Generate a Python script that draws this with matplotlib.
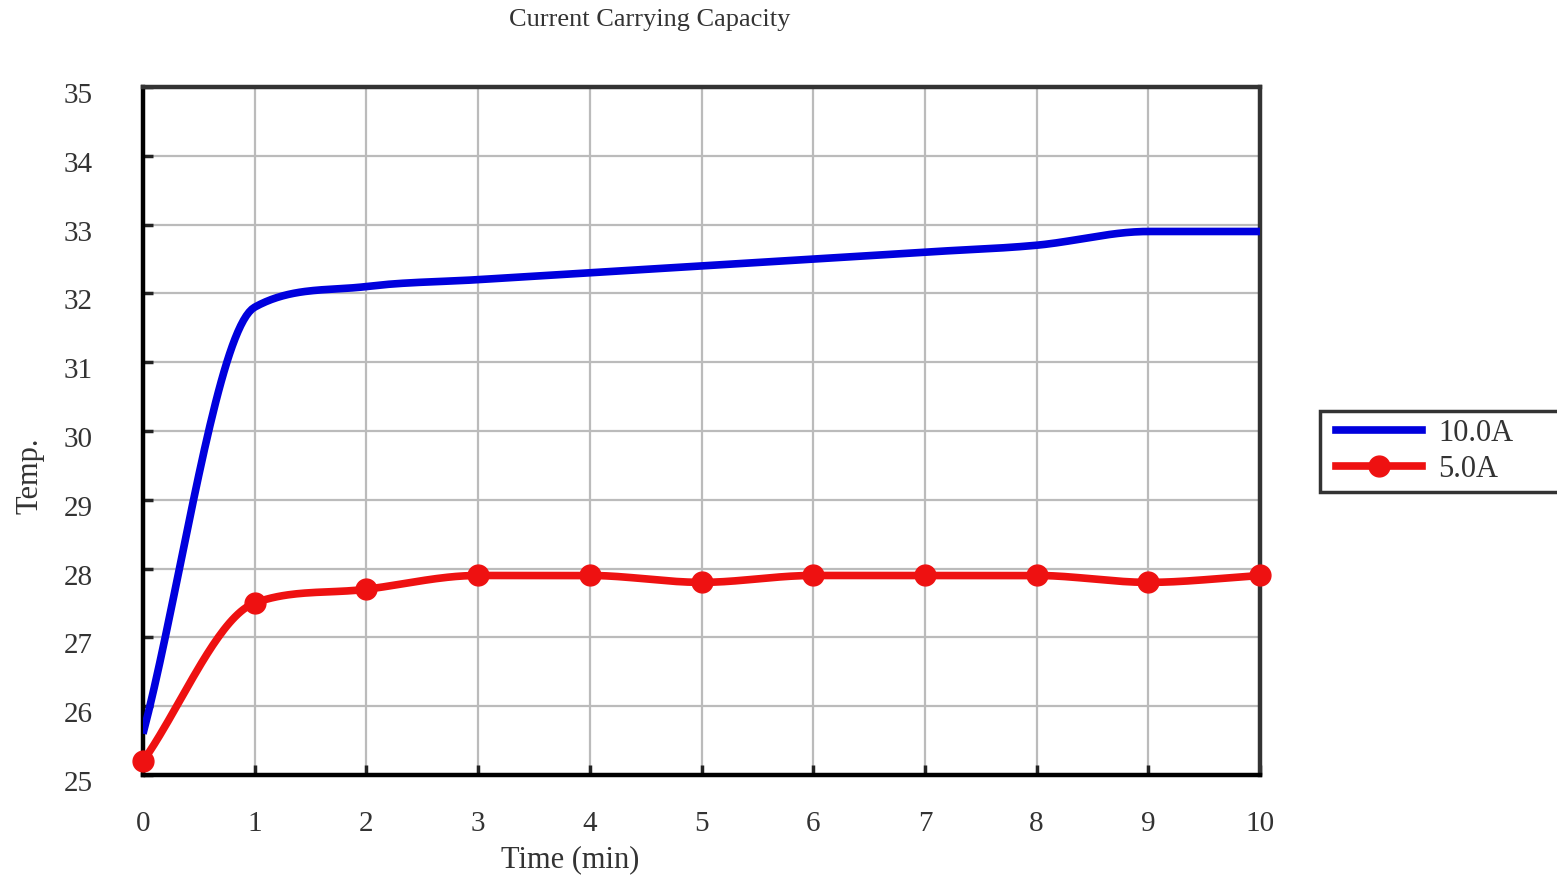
import numpy as np
import matplotlib
matplotlib.use("Agg")
import matplotlib.pyplot as plt
import matplotlib.transforms as mtransforms
from matplotlib.lines import Line2D
from matplotlib.patches import Rectangle

time_min = [0, 1, 2, 3, 4, 5, 6, 7, 8, 9, 10]
temp_10A = [25.6, 31.8, 32.1, 32.2, 32.3, 32.4, 32.5, 32.6, 32.7, 32.9, 32.9]
temp_5A = [25.2, 27.5, 27.7, 27.9, 27.9, 27.8, 27.9, 27.9, 27.9, 27.8, 27.9]
series_labels = ["10.0A", "5.0A"]
x_ticks = list(range(0, 11))
y_ticks = list(range(25, 36))

plt.rcParams['font.family'] = ['Liberation Serif', 'DejaVu Serif']


def smooth(xs, ys, n=40, tension=0.5):
    """Smooth rendering of the line through the data points
    (cardinal spline with Fritsch-Carlson limiting, so no overshoot)."""
    xs = np.asarray(xs, float)
    ys = np.asarray(ys, float)
    d = np.diff(ys) / np.diff(xs)
    m = np.zeros_like(ys)
    m[0], m[-1] = d[0], d[-1]
    for k in range(1, len(xs) - 1):
        if d[k - 1] * d[k] <= 0:
            m[k] = 0.0
        else:
            c = tension * (d[k - 1] + d[k])
            lim = 3 * min(abs(d[k - 1]), abs(d[k]))
            m[k] = np.sign(c) * min(abs(c), lim)
    outx, outy = [], []
    t = np.linspace(0, 1, n, endpoint=False)
    h00 = 2 * t**3 - 3 * t**2 + 1
    h10 = t**3 - 2 * t**2 + t
    h01 = -2 * t**3 + 3 * t**2
    h11 = t**3 - t**2
    for k in range(len(xs) - 1):
        h = xs[k + 1] - xs[k]
        outx.extend(xs[k] + t * h)
        outy.extend(h00 * ys[k] + h10 * h * m[k] + h01 * ys[k + 1] + h11 * h * m[k + 1])
    outx.append(xs[-1])
    outy.append(ys[-1])
    return np.array(outx), np.array(outy)


fig = plt.figure(figsize=(15.57, 8.75), dpi=100)
ax = fig.add_axes([143 / 1557, 1 - 775 / 875, (1260 - 143) / 1557, (775 - 87) / 875])

blue = '#0000dd'
red = '#ee1111'

bx, by = smooth(time_min, temp_10A)
ax.plot(bx, by, color=blue, lw=5.5, solid_capstyle='butt', zorder=3)
rx, ry = smooth(time_min, temp_5A)
ax.plot(rx, ry, color=red, lw=5.5, zorder=3)
ax.plot(time_min, temp_5A, linestyle='none', marker='o', markersize=15,
        color=red, zorder=4, clip_on=False)

ax.set_xlim(0, 10)
ax.set_ylim(25, 35)
ax.set_xticks(x_ticks)
ax.set_yticks(y_ticks)
ax.grid(True, color='#bbbbbb', lw=1.6)
ax.set_axisbelow(True)

for s in ['left', 'bottom']:
    ax.spines[s].set_color('black')
    ax.spines[s].set_linewidth(3.2)
for s in ['top', 'right']:
    ax.spines[s].set_color('#333333')
    ax.spines[s].set_linewidth(3.2)

ax.tick_params(axis='both', direction='in', length=7, width=2.5, colors='#222222',
               labelcolor='#333333', labelsize=21)
ax.tick_params(axis='x', pad=26)
ax.tick_params(axis='y', pad=36)
shift = mtransforms.ScaledTranslation(0, -6 / 100, fig.dpi_scale_trans)
for lbl in ax.get_yticklabels():
    lbl.set_transform(lbl.get_transform() + shift)

fig.text(650 / 1557, 1 - 20 / 875, 'Current Carrying Capacity', ha='center', va='center',
         fontsize=19, color='#333333')
fig.text(570 / 1557, 1 - 860 / 875, 'Time (min)', ha='center', va='center',
         fontsize=22, color='#333333')
fig.text(30 / 1557, 1 - 476 / 875, 'Temp.', ha='center', va='center', rotation=90,
         fontsize=22, color='#333333')

# legend frame running off the right edge as in the reference
fig.patches.append(Rectangle((1320 / 1557, 1 - 492 / 875), 260 / 1557, 81 / 875,
                             transform=fig.transFigure, facecolor='white',
                             edgecolor='#333333', lw=2.5, zorder=1))
handles = [Line2D([], [], color=blue, lw=5.5),
           Line2D([], [], color=red, lw=5.5, marker='o', markersize=15)]
leg = fig.legend(handles, series_labels, loc='upper left',
                 bbox_to_anchor=(1330 / 1557, 1 - 413 / 875),
                 bbox_transform=fig.transFigure, frameon=False,
                 fontsize=22, handlelength=2.8,
                 labelspacing=0.22, borderpad=0.2, borderaxespad=0, handletextpad=0.55)
leg.set_zorder(2)
for t in leg.get_texts():
    t.set_color('#333333')

fig.savefig('out.png', dpi=100, facecolor='white')
